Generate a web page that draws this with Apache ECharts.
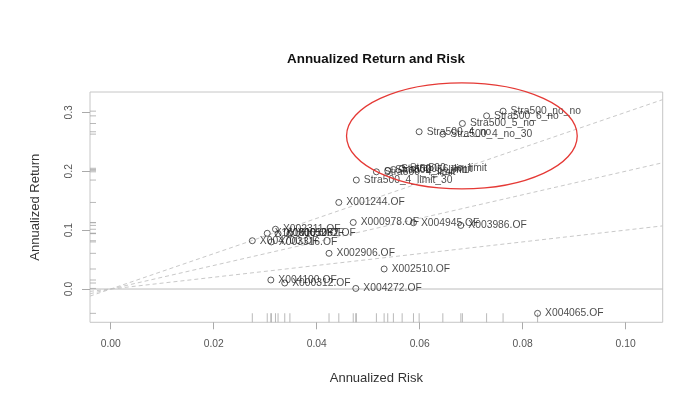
<!DOCTYPE html>
<html>
<head>
<meta charset="utf-8">
<script src="https://cdn.jsdelivr.net/npm/echarts@6.0.0/dist/echarts.min.js"></script>
<style>
html,body{margin:0;padding:0;background:#fff;}
#chart{width:686px;height:401px;}
</style>
</head>
<body>
<div id="chart"></div>
<script>
// ---- data ----
const names = [
  'Stra500_no_no','Stra500_6_no','Stra500_5_no','Stra500_4_no','Stra500_4_no_30',
  'Stra500_no_limit','Stra500_6_limit','Stra500_5_limit','Stra500_4_limit','Stra500_4_limit_30',
  'X001244.OF','X000978.OF','X004945.OF','X003986.OF','X002311.OF',
  'X161610.OF','X000652.OF','X001062.OF','X004700.OF','X003316.OF',
  'X002906.OF','X002510.OF','X004100.OF','X000312.OF','X004272.OF','X004065.OF'
];
const risk = [
  0.0762, 0.0730, 0.0683, 0.0599, 0.0645,
  0.0566, 0.0549, 0.0538, 0.0516, 0.0477,
  0.0443, 0.0471, 0.0588, 0.0680, 0.0320,
  0.0304, 0.0325, 0.0348, 0.0275, 0.0312,
  0.0424, 0.0531, 0.0311, 0.0338, 0.0476, 0.0829
];
const ret = [
  0.302, 0.294, 0.281, 0.267, 0.263,
  0.205, 0.203, 0.201, 0.199, 0.185,
  0.147, 0.113, 0.1125, 0.108, 0.1015,
  0.0946, 0.094, 0.0945, 0.082, 0.080,
  0.0606, 0.034, 0.0153, 0.0102, 0.001, -0.0413
];
const xTicks = [0, 0.02, 0.04, 0.06, 0.08, 0.10];
const yTicks = [0, 0.1, 0.2, 0.3];
const sharpeSlopes = [1, 2, 3];
const xRange = [-0.00402, 0.1072];
const yRange = [-0.0565, 0.3345];
const highlightEllipse = [0.0682, 0.260, 0.0224, 0.090]; // cx, cy, rx, ry (data units)

// ---- chart ----
const FONT = '"Liberation Sans", Arial, sans-serif';
const chart = echarts.init(document.getElementById('chart'), null, {renderer: 'canvas'});

const points = names.map((n, i) => ({name: n, value: [risk[i], ret[i]]}));
const xRug = risk.map(v => [v, yRange[0]]);
const yRug = ret.map(v => [xRange[0], v]);

const sharpeSeries = sharpeSlopes.map(k => ({
  type: 'line', silent: true, symbol: 'none', animation: false,
  data: [[xRange[0], k * xRange[0]], [xRange[1], k * xRange[1]]],
  lineStyle: {color: '#c9c9c9', width: 1, type: [4, 3]},
  z: 1
}));

const option = {
  animation: false,
  backgroundColor: '#fff',
  graphic: [{
    type: 'text', x: 376, y: 59, silent: true,
    style: {text: 'Annualized Return and Risk', font: 'bold 13.4px ' + FONT,
      fill: '#111', textAlign: 'center', textVerticalAlign: 'middle'}
  }],
  grid: {left: 90, right: 23.3, top: 92, bottom: 78.7, show: true,
    borderColor: '#c6c6c6', borderWidth: 1, backgroundColor: 'transparent', containLabel: false},
  xAxis: {
    type: 'value', min: xRange[0], max: xRange[1], position: 'bottom',
    name: 'Annualized Risk', nameLocation: 'middle', nameGap: 50,
    nameTextStyle: {fontFamily: FONT, fontSize: 13, color: '#333'},
    axisLine: {show: false, onZero: false},
    axisTick: {show: true, inside: false, length: 7, customValues: xTicks,
      lineStyle: {color: '#aaa', width: 1}},
    axisLabel: {show: true, customValues: xTicks, margin: 17,
      formatter: v => v.toFixed(2), fontFamily: FONT, fontSize: 10.3, color: '#555'},
    splitLine: {show: false}
  },
  yAxis: {
    type: 'value', min: yRange[0], max: yRange[1], position: 'left',
    name: 'Annualized Return', nameLocation: 'middle', nameGap: 48, nameRotate: 90,
    nameTextStyle: {fontFamily: FONT, fontSize: 13, color: '#333'},
    axisLine: {show: false, onZero: false},
    axisTick: {show: true, inside: false, length: 8, customValues: yTicks,
      lineStyle: {color: '#aaa', width: 1}},
    axisLabel: {show: true, customValues: yTicks, margin: 16, rotate: 90,
      formatter: v => v.toFixed(1), fontFamily: FONT, fontSize: 10.3, color: '#555'},
    splitLine: {show: false}
  },
  series: [
    ...sharpeSeries,
    {
      type: 'line', silent: true, symbol: 'none',
      data: [[xRange[0], 0], [xRange[1], 0]],
      lineStyle: {color: '#bdbdbd', width: 1}, z: 1
    },
    {
      type: 'scatter', silent: true, clip: false, symbol: 'rect',
      symbolSize: [1, 9], symbolOffset: [0, -4.5],
      data: xRug, itemStyle: {color: '#a8a8a8'}, z: 2
    },
    {
      type: 'scatter', silent: true, clip: false, symbol: 'rect',
      symbolSize: [6, 1], symbolOffset: [3, 0],
      data: yRug, itemStyle: {color: '#a8a8a8'}, z: 2
    },
    {
      type: 'scatter', silent: true, symbol: 'circle', symbolSize: 6,
      data: points,
      itemStyle: {color: 'rgba(255,255,255,0)', borderColor: '#333', borderWidth: 1},
      label: {show: true, position: 'right', distance: 4, formatter: '{b}',
        fontFamily: FONT, fontSize: 10.3, color: '#1a1a1a'},
      emphasis: {disabled: true},
      z: 3
    },
    {
      type: 'custom', silent: true, clip: false,
      data: [highlightEllipse],
      renderItem: (params, api) => {
        const c = api.coord([api.value(0), api.value(1)]);
        const s = api.size([api.value(2), api.value(3)]);
        return {type: 'ellipse', shape: {cx: c[0], cy: c[1], rx: s[0], ry: s[1]},
          style: {fill: null, stroke: '#e53935', lineWidth: 1.3}};
      },
      z: 5
    }
  ]
};
chart.setOption(option);
</script>
</body>
</html>
